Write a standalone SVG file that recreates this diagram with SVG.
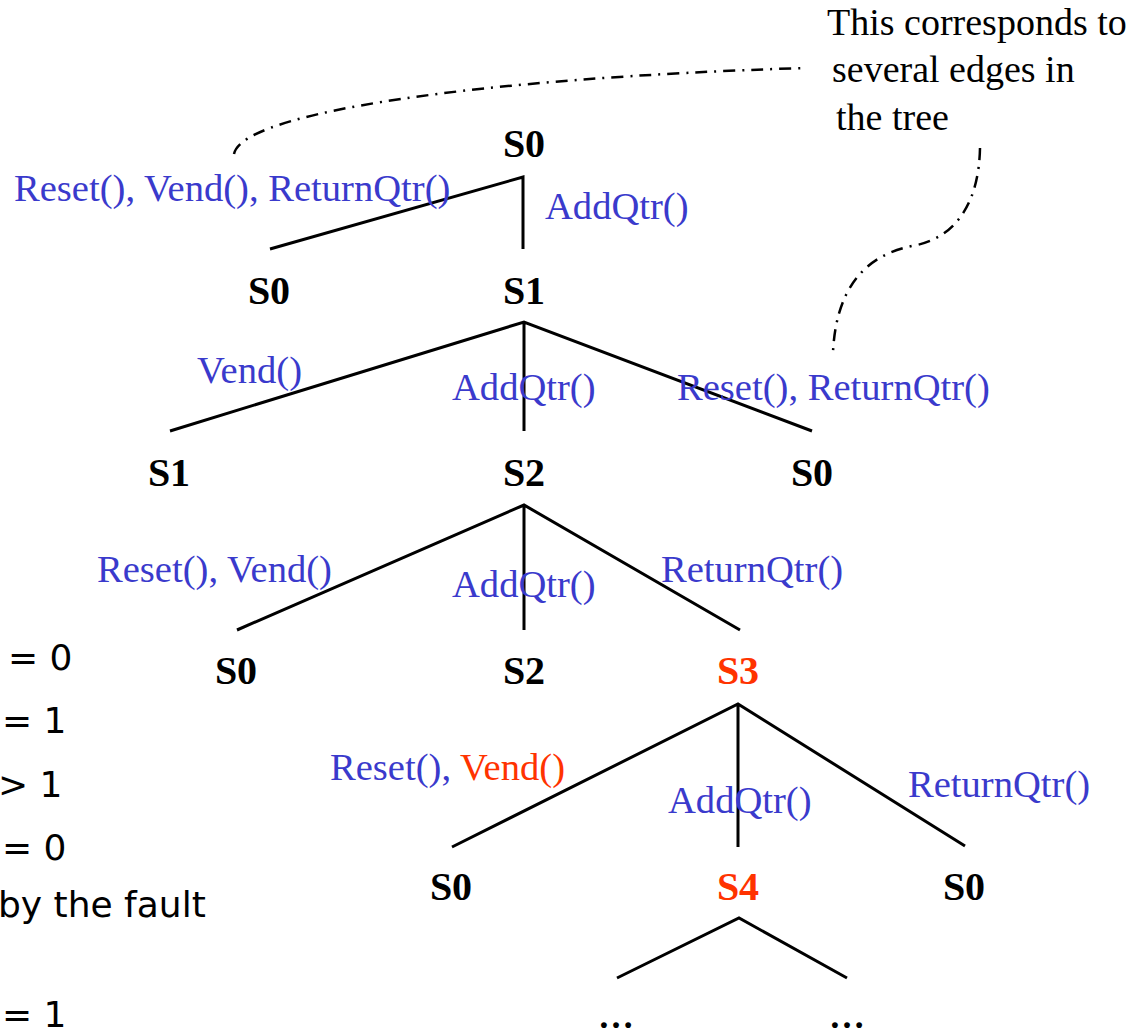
<svg xmlns="http://www.w3.org/2000/svg" width="1142" height="1036" viewBox="0 0 1142 1036">
  <style>
    .node { font-family: "Liberation Serif", "Times New Roman", serif; font-weight: bold; font-size: 40px; fill: #000; text-anchor: middle; }
    .node.hot { fill: #ff3300; }
    .more { font-family: "Liberation Serif", "Times New Roman", serif; font-weight: bold; font-size: 36px; fill: #000; text-anchor: middle; }
    .lbl { font-family: "Liberation Serif", "Times New Roman", serif; font-size: 38.6px; fill: #3a3acc; }
    .lbl .hot { fill: #ff3300; }
    .note { font-family: "Liberation Serif", "Times New Roman", serif; font-size: 38px; fill: #000; }
    .side { font-family: "Comic Sans MS", "DejaVu Sans", sans-serif; font-size: 36px; fill: #000; }
    .edge { stroke: #000; stroke-width: 3; fill: none; stroke-linecap: butt; }
    .callout { stroke: #000; stroke-width: 2.5; fill: none; stroke-dasharray: 12 7 2 7; }
  </style>
  <rect width="1142" height="1036" fill="#fff"/>

  <!-- side notes (left margin) -->
  <g id="side-notes">
    <text class="side" x="8" y="670">= 0</text>
    <text class="side" x="2" y="733">= 1</text>
    <text class="side" x="-2" y="797">&gt; 1</text>
    <text class="side" x="2" y="860">= 0</text>
    <text class="side" x="-2" y="917">by the fault</text>
    <text class="side" x="2" y="1027">= 1</text>
  </g>

  <!-- tree edges -->
  <g id="edges">
    <path class="edge" d="M270,249 L523,177 L523,249"/>
    <path class="edge" d="M170,431 L524,322 L812,431 M524,322 L524,431"/>
    <path class="edge" d="M237,630 L524,505 L740,630 M524,505 L524,630"/>
    <path class="edge" d="M452,847 L738,704 L965,846 M738,704 L738,847"/>
    <path class="edge" d="M617,978 L739,918 L847,978"/>
  </g>

  <!-- callout leaders -->
  <g id="callout-lines">
    <path class="callout" d="M234,154 C242,112 480,78 805,68"/>
    <path class="callout" d="M980,148 C979,200 958,238 912,246 C862,256 836,292 833,352"/>
  </g>

  <!-- edge labels -->
  <g id="edge-labels">
    <text class="lbl" x="14" y="201">Reset(), Vend(), ReturnQtr()</text>
    <text class="lbl" x="545" y="219">AddQtr()</text>
    <text class="lbl" x="197" y="383">Vend()</text>
    <text class="lbl" x="452" y="400">AddQtr()</text>
    <text class="lbl" x="677" y="400">Reset(), ReturnQtr()</text>
    <text class="lbl" x="97" y="582">Reset(), Vend()</text>
    <text class="lbl" x="452" y="597">AddQtr()</text>
    <text class="lbl" x="661" y="582">ReturnQtr()</text>
    <text class="lbl" x="330" y="780">Reset(), <tspan class="hot">Vend()</tspan></text>
    <text class="lbl" x="668" y="813">AddQtr()</text>
    <text class="lbl" x="908" y="797">ReturnQtr()</text>
  </g>

  <!-- states -->
  <g id="n-root"><text class="node" x="524" y="157">S0</text></g>
  <g id="n-l1-s0"><text class="node" x="269" y="304">S0</text></g>
  <g id="n-l1-s1"><text class="node" x="524" y="304">S1</text></g>
  <g id="n-l2-s1"><text class="node" x="169" y="486">S1</text></g>
  <g id="n-l2-s2"><text class="node" x="524" y="486">S2</text></g>
  <g id="n-l2-s0"><text class="node" x="812" y="486">S0</text></g>
  <g id="n-l3-s0"><text class="node" x="236" y="684">S0</text></g>
  <g id="n-l3-s2"><text class="node" x="524" y="684">S2</text></g>
  <g id="n-l3-s3"><text class="node hot" x="738" y="684">S3</text></g>
  <g id="n-l4-s0a"><text class="node" x="451" y="900">S0</text></g>
  <g id="n-l4-s4"><text class="node hot" x="738" y="900">S4</text></g>
  <g id="n-l4-s0b"><text class="node" x="964" y="900">S0</text></g>
  <g id="n-l5-a"><text class="more" x="616" y="1028">…</text></g>
  <g id="n-l5-b"><text class="more" x="847" y="1028">…</text></g>

  <!-- annotation -->
  <g id="note">
    <text class="note" x="827" y="35">This corresponds to</text>
    <text class="note" x="832" y="82">several edges in</text>
    <text class="note" x="836" y="130">the tree</text>
  </g>
</svg>
